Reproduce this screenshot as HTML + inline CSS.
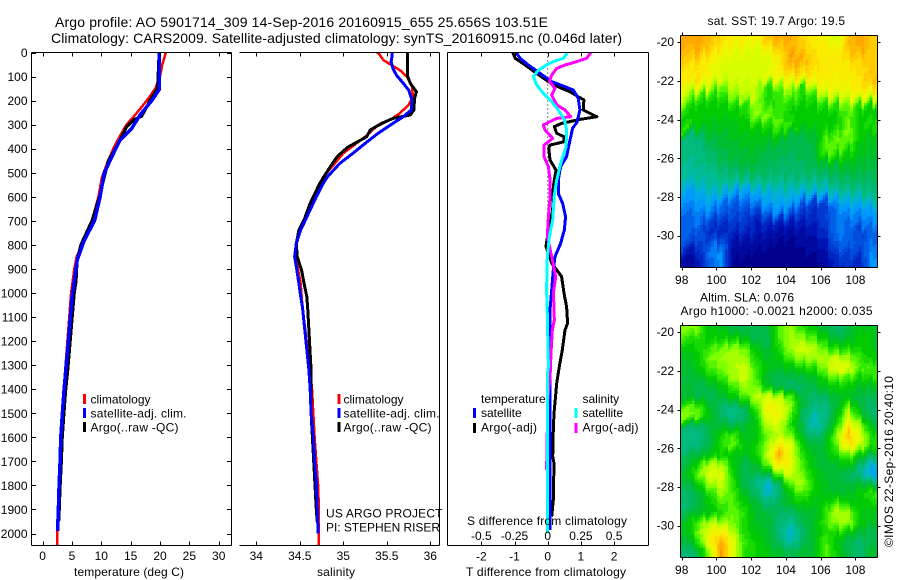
<!DOCTYPE html>
<html lang="en">
<head>
<meta charset="utf-8">
<title>Argo profile 5901714_309</title>
<style>
html,body{margin:0;padding:0;background:#fff;}
svg{display:block;}
text{font-family:"Liberation Sans",sans-serif;font-size:12px;fill:#000;}
.ttl{font-size:14px;}
</style>
</head>
<body>
<svg id="fig" xmlns="http://www.w3.org/2000/svg" width="900" height="580" viewBox="0 0 900 580">
<rect x="0" y="0" width="900" height="580" fill="#fff"/>
<text class="ttl" x="55" y="27" textLength="493" lengthAdjust="spacing">Argo profile: AO 5901714_309 14-Sep-2016 20160915_655 25.656S 103.51E</text>
<text class="ttl" x="51" y="43" textLength="571" lengthAdjust="spacing">Climatology: CARS2009. Satellite-adjusted climatology: synTS_20160915.nc (0.046d later)</text>
<g id="maps"></g>
<g id="series"></g>
<g id="axes" shape-rendering="crispEdges"></g>
<g id="labels"></g>

<text x="74" y="576" textLength="110" lengthAdjust="spacing">temperature (deg C)</text>
<text x="317" y="576" textLength="38" lengthAdjust="spacing">salinity</text>
<text x="467" y="525" textLength="160" lengthAdjust="spacing">S difference from climatology</text>
<text x="466" y="576" textLength="160" lengthAdjust="spacing">T difference from climatology</text>

<g>
<rect x="83" y="394" width="3" height="10" fill="#f00"/>
<rect x="83" y="408" width="3" height="10" fill="#00f"/>
<rect x="83" y="422" width="3" height="10" fill="#000"/>
<text x="90.5" y="403.5">climatology</text>
<text x="90.5" y="417.5" textLength="96" lengthAdjust="spacing">satellite-adj. clim.</text>
<text x="90.5" y="431.5" textLength="88" lengthAdjust="spacing">Argo(..raw -QC)</text>
</g>
<g>
<rect x="337.5" y="394" width="3" height="10" fill="#f00"/>
<rect x="337.5" y="408" width="3" height="10" fill="#00f"/>
<rect x="337.5" y="422" width="3" height="10" fill="#000"/>
<text x="343.5" y="403.5">climatology</text>
<text x="343.5" y="417.5" textLength="96" lengthAdjust="spacing">satellite-adj. clim.</text>
<text x="343.5" y="431.5" textLength="88" lengthAdjust="spacing">Argo(..raw -QC)</text>
</g>
<text x="326" y="517.5" textLength="116.5" lengthAdjust="spacing">US ARGO PROJECT</text>
<text x="326" y="531.5" textLength="114" lengthAdjust="spacing">PI: STEPHEN RISER</text>

<g>
<text x="481" y="403">temperature</text>
<text x="582.5" y="403">salinity</text>
<rect x="473" y="408" width="3" height="10" fill="#00f"/>
<rect x="473" y="423" width="3" height="10" fill="#000"/>
<rect x="574.5" y="408" width="3" height="10" fill="#0ff"/>
<rect x="574.5" y="423" width="3" height="10" fill="#f0f"/>
<text x="481" y="417">satellite</text>
<text x="481" y="431.5" textLength="56" lengthAdjust="spacing">Argo(-adj)</text>
<text x="582.5" y="417">satellite</text>
<text x="582.5" y="431.5" textLength="56" lengthAdjust="spacing">Argo(-adj)</text>
</g>

<text x="707.5" y="25" textLength="137.5" lengthAdjust="spacing">sat. SST: 19.7 Argo: 19.5</text>
<text x="700" y="301.5" textLength="94" lengthAdjust="spacing">Altim. SLA: 0.076</text>
<text x="680.5" y="315" textLength="192" lengthAdjust="spacing">Argo h1000: -0.0021 h2000: 0.035</text>
<text transform="translate(893,547) rotate(-90)" x="0" y="0" textLength="171" lengthAdjust="spacing">©IMOS 22-Sep-2016 20:40:10</text>
</svg>
<script>
// ---------- profile data (depth in m, temperature deg C, salinity PSU) ----------
const depthTicks = [0,100,200,300,400,500,600,700,800,900,1000,1100,1200,1300,1400,1500,1600,1700,1800,1900,2000];
const tempTicks = [0,5,10,15,20,25,30];
const salTicks = [34,34.5,35,35.5,36];
const salTickLabels = ['34','34.5','35','35.5','36'];
const diffTTicks = [-2,-1,0,1,2];
const diffSTicks = [-0.5,-0.25,0,0.25,0.5];
const diffSTickLabels = ['-0.5','-0.25','0','0.25','0.5'];

const tempClimDepth = [0,50,100,150,200,260,300,350,400,460,520,600,700,800,850,900,1000,1320,1400,1500,1600,1700,1800,1900,2053];
const tempClimVal = [21,20.4,20,19.2,17.75,15.75,14.3,13.1,12.05,11,10.1,9.5,8.4,6.7,5.8,5.4,4.85,3.85,3.6,3.3,3.05,2.9,2.75,2.6,2.45];
const tempSatDepth = [0,155,200,260,315,364,433,502,600,630,696,787,863,932,1021,1320,1400,1500,1600,1700,1800,1900,1990];
const tempSatVal = [19.85,19.85,18.6,16.6,15.2,13.2,11.8,10.5,9.8,9.5,8.9,7,5.9,5.5,5,3.95,3.67,3.38,3.1,2.98,2.81,2.7,2.53];
const tempArgoDepth = [0,130,150,200,265,280,310,400,450,520,600,700,800,860,950,1000,1320,1400,1500,1600,1700,1800,1900,1950];
const tempArgoVal = [19.85,19.6,19.5,18.3,16.9,15.5,14.3,12.4,11.2,10.5,9.7,8.4,6.5,5.9,5.7,5.4,4.3,3.95,3.65,3.35,3.2,3,2.85,2.75];

const salClimDepth = [0,10,31,45,73,100,142,184,218,253,280,308,350,378,419,475,516,600,669,738,794,849,904,960,1057,1320,1400,1500,1600,1700,1800,1900,2053];
const salClimVal = [35.39,35.42,35.46,35.52,35.65,35.73,35.79,35.8,35.75,35.65,35.54,35.38,35.25,35.15,35,34.87,34.77,34.66,34.6,34.5,34.46,34.46,34.48,34.51,34.53,34.62,34.64,34.655,34.67,34.69,34.71,34.72,34.72];
const salSatDepth = [0,17,38,66,94,128,156,197,239,267,295,336,378,419,461,516,544,600,669,738,794,849,890,960,1015,1057,1320,1403,1500,1597,1694,1791,1888,2000];
const salSatVal = [35.56,35.56,35.55,35.57,35.61,35.69,35.75,35.79,35.78,35.69,35.57,35.4,35.25,35.11,34.96,34.82,34.77,34.69,34.6,34.51,34.46,34.44,34.46,34.49,34.51,34.53,34.605,34.62,34.63,34.655,34.67,34.69,34.7,34.71];
const salArgoDepth = [0,100,128,163,190,239,260,274,295,322,350,378,394,433,475,544,627,696,738,794,849,904,960,1015,1057,1320,1500,1700,1900,1950];
const salArgoVal = [35.74,35.74,35.77,35.84,35.82,35.81,35.77,35.57,35.44,35.31,35.27,35.13,35.05,34.93,34.85,34.73,34.62,34.55,34.49,34.46,34.47,34.52,34.55,34.58,34.59,34.63,34.63,34.66,34.69,34.7];

const dTSatDepth = [0,24,52,87,121,142,156,190,239,288,315,378,433,475,530,586,627,683,738,794,849,904,987,1070,1400,1985];
const dTSatVal = [-0.95,-0.83,-0.58,-0.23,0.12,0.52,0.77,0.92,0.97,0.89,0.75,0.65,0.57,0.39,0.32,0.32,0.45,0.54,0.5,0.39,0.22,0.17,0.12,0.07,0.07,0.07];
const dTArgoDepth = [0,24,52,87,121,149,163,184,197,239,267,278,295,308,336,350,371,385,398,447,489,558,655,738,807,876,932,1001,1057,1126,1154,1237,1306,1376,1500,1570,1680,1708,1860,1930];
const dTArgoVal = [-1.05,-0.98,-0.68,-0.33,0.02,0.42,0.67,0.92,1.09,1.07,1.48,0.97,0.42,0.2,0.27,0.49,0.49,0.07,0.03,0.07,0.25,0.17,0.15,0.02,-0.05,0.12,0.42,0.49,0.57,0.6,0.52,0.44,0.35,0.27,0.19,0.17,0.15,0.19,0.17,0.12];
const dSSatDepth = [0,24,38,52,73,100,135,170,197,239,280,322,392,461,530,600,696,766,849,987,1070,1306,1340,1650,2000];
const dSSatVal = [0.148,0.118,0.043,-0.008,-0.07,-0.108,-0.083,-0.033,0.018,0.08,0.126,0.143,0.138,0.098,0.068,0.048,0.038,0.013,-0.003,-0.008,-0.004,0.005,-0.003,-0.001,-0.003];
const dSArgoDepth = [0,24,38,52,66,94,121,149,177,218,239,267,274,301,322,357,385,433,475,530,600,683,766,849,932,1001,1070,1112,1154,1251,1348,1459,1570,1736];
const dSArgoVal = [0.324,0.294,0.219,0.13,0.068,0.03,0.013,0.055,0.03,0.068,0.13,0.173,0.068,-0.033,-0.02,0.038,-0.028,-0.028,0.005,0.018,0.018,0.005,-0.003,0.03,0.06,0.043,0.048,0.05,0.035,0.025,0.018,-0.003,-0.003,-0.008];

// ---------- map data ----------
const mapLonTicks = [98,100,102,104,106,108];
const mapLatTicks = [20,22,24,26,28,30];
// sea-surface temperature, deg C; rows north to south, columns west to east
const sstRows = [
[24,24,23.7,23.3,23,23,22.7,23.7,24,24,23.3,23,22.7,22,23.7,24,23.5],
[23.7,24,23.5,23,22.5,22.5,22.3,23,23.5,23.7,23.5,23,23,22.7,23.7,24,23.5],
[23.5,23.5,23,22.5,22.3,22.3,22.3,22.3,23,24.2,24,23.3,23,23,23.3,23.5,23.5],
[23,23,22.7,22.3,22.3,22.3,22.2,22.3,23,23.7,23.5,23.2,23,23,23,23.2,23.5],
[23,23.3,22.7,22.3,22.2,22.2,22.3,22.5,22.7,23,23,23,23,22.8,23,23.2,23.7],
[22.3,22.5,22,21.3,22,22,22,20.8,21.5,22,20.8,22.3,22.7,22.7,22.8,23,23.3],
[21.7,21,20.8,20.8,21.5,21.8,22,20.6,21,21.3,20.7,20.8,22,22,22.3,22.7,22.5],
[20.8,20.6,20.5,20.5,20.7,20.7,21.6,20.8,21,20.7,20.5,20.6,20.8,20.8,21.5,20.7,20.6],
[20.5,20.4,20.4,20.4,20.4,20.6,21.7,21.5,21,20.6,20.5,20.5,20.5,20.6,21.2,20.6,20.5],
[21,20.4,20.3,20.3,20.3,20.5,20.7,20.7,21.3,20.9,20.4,20.4,20.4,20.6,21.4,20.5,20.9],
[19.2,19.4,20,20,20.2,20.3,20.3,20.3,20.6,19.8,19.8,20,20.9,21.1,21.5,20.4,20.3],
[19.2,19.2,19.6,19.9,20,20.2,20.2,20,19.9,19.7,19.7,19.9,21.3,21.4,21.2,20.4,20.2],
[19.2,19.3,19.5,19.8,20,20,20,19.7,19.7,19.6,19.7,19.8,21.2,20.9,20.5,20.3,20],
[19,19.1,19.3,19.6,19.7,19.9,19.9,19.7,19.6,19.6,19.6,19.8,20,20,20.2,20,19.9],
[18.9,19,19,19.3,19.4,19.6,19.6,19.5,19.4,19.5,19.5,19.5,19.6,19.7,19.8,19.8,19.7],
[18.5,18.8,18.9,19,19,18.7,19,19.2,19,19,19,19,18.9,19.4,19.5,19.5,19.4],
[18,18.3,18.6,18.6,18.1,18,18.2,18.4,18.5,18.6,18.4,18.5,18.5,18.8,18.9,19,19.3],
[17.8,18,18.3,17.7,17.4,17.5,17.8,18.2,18.3,18.2,17.5,17,17.2,18,18.4,18.3,18.7],
[17.5,17.8,17.8,17.4,17.3,17.2,17,17.6,18,17.4,17,16.8,17,17.7,17.9,17.9,18],
[17.5,17.7,17.1,16.9,17,17,16.6,16.8,16.7,16.6,16.6,16.7,17.1,17.7,17.6,17.7,17.9],
[17.6,17.3,16.8,16.7,16.8,16.8,16.6,16.5,16.3,16.3,16.3,16.5,16.9,17.7,17.6,17,17.5],
[17.2,17.1,17.2,17.4,16.4,16.3,16.3,16.2,16.1,16.1,16.2,16.3,16.6,17.6,17.5,17.3,17.6],
[16.4,16.7,17.7,18,16.2,16.2,16.1,16.1,16,16,16.1,16.2,16.4,17.2,17.3,17.2,17.8],
[16.2,16.5,17.5,17.9,16.1,16.1,16,16,16,16,16,16,16.2,16.8,16.9,16.7,18]
];
// altimetric sea-level anomaly, m
const slaRows = [
[0.1,0.1,0.02,0.02,-0.02,-0.02,-0.03,-0.02,0.08,0.12,0.06,0.02,-0.01,-0.05,-0.02,0.02,0.02],
[0.06,0.05,0.03,0.04,0.04,0.02,-0.03,-0.03,0.08,0.13,0.12,0.08,0.03,-0.02,0,0.03,0.02],
[0.02,0.04,0.07,0.1,0.12,0.1,0.02,-0.02,0.05,0.13,0.16,0.14,0.08,0.05,0.05,0.04,0.02],
[0,0.03,0.1,0.12,0.13,0.13,0.04,0,0.03,0.08,0.12,0.12,0.13,0.15,0.12,0.07,0.03],
[-0.01,0.02,0.08,0.1,0.13,0.15,0.07,0.02,0,0.02,0.05,0.06,0.12,0.18,0.17,0.08,0.08],
[-0.02,-0.01,0.03,0.07,0.12,0.15,0.08,-0.02,-0.03,-0.03,-0.02,0,0.06,0.1,0.08,0.04,0.06],
[-0.01,-0.03,-0.02,0.01,0.07,0.12,0.1,0.02,-0.03,-0.05,-0.04,-0.02,0.01,0.03,0.03,0,0],
[0,-0.02,-0.03,-0.01,0.02,0.08,0.14,0.17,0.14,0.08,-0.02,-0.05,-0.04,0,0,-0.02,-0.03],
[0.1,0.08,0,-0.05,-0.06,-0.03,0.08,0.2,0.19,0.12,-0.02,-0.06,-0.07,-0.01,0.1,-0.02,-0.05],
[0.1,0.1,0.01,-0.04,-0.08,-0.05,0.03,0.19,0.2,0.08,-0.03,-0.1,-0.07,0.02,0.16,0.04,-0.05],
[-0.05,-0.05,-0.02,0,-0.02,-0.01,0.02,0.14,0.15,0.05,-0.02,-0.12,-0.06,0.05,0.22,0.12,0],
[-0.07,-0.07,-0.03,0.04,0.08,0,0.02,0.1,0.14,0.1,0,-0.06,-0.02,0.12,0.28,0.17,0.05],
[-0.07,-0.06,-0.02,0.06,0.1,0.02,0.03,0.12,0.22,0.18,0.03,-0.02,0,0.1,0.24,0.15,0.05],
[-0.03,-0.02,0.02,0.04,0.02,0,0.04,0.14,0.3,0.17,0.06,0,0,0.05,0.1,0.03,-0.03],
[-0.02,0.05,0.14,0.13,0.03,-0.03,0,0.1,0.24,0.18,0.08,0.01,-0.02,0,0.03,-0.05,-0.12],
[0,0.1,0.17,0.17,0.05,-0.03,-0.03,-0.03,0.1,0.16,0.1,0.03,0,-0.02,-0.03,-0.08,-0.15],
[-0.03,0.03,0.12,0.15,0.06,-0.03,-0.06,-0.12,-0.04,0.1,0.13,0.04,0,0,-0.02,0,-0.03],
[-0.05,-0.02,0.05,0.12,0.08,0,-0.04,-0.12,-0.05,0.03,0.09,0.03,0.01,0,0,0.03,0.07],
[-0.06,-0.02,0.03,0.08,0.08,0.03,-0.01,-0.06,-0.03,0.01,0.03,0.01,0.03,0.08,0.03,0.02,0.04],
[-0.03,0,0.02,0.05,0.1,0.06,0,-0.02,-0.04,-0.05,-0.01,-0.01,0.06,0.14,0.12,0.02,0.01],
[0.02,0.08,0.14,0.12,0.1,0.05,0,0,-0.05,-0.08,-0.03,0,0.07,0.12,0.13,0.03,0],
[0,0.1,0.18,0.22,0.14,0.05,0.02,0,-0.06,-0.12,-0.05,0,0.05,0.05,0.03,-0.01,-0.03],
[-0.03,0.06,0.2,0.3,0.18,0.07,0.04,0,-0.04,-0.1,-0.04,0,0.08,0.02,-0.03,-0.05,-0.03],
[-0.06,-0.02,0.12,0.32,0.18,0.06,0.04,0.02,-0.01,-0.03,-0.01,0,0.09,0.03,-0.03,-0.05,0]
];
const colorLevels = [16,16.5,17,17.5,18,18.5,19,19.5,20,20.5,21,21.5,22,22.5,23,23.5,24,24.5];
const colorRGB = [[0,0,140],[0,20,180],[0,56,208],[0,96,232],[0,152,255],[0,176,216],[0,188,148],[0,184,104],[0,188,48],[0,204,0],[48,232,0],[128,255,0],[200,255,0],[232,250,0],[250,236,0],[255,204,0],[255,168,0],[240,136,0]];

// ---------- scales ----------
const NS = 'http://www.w3.org/2000/svg';
const gMaps = document.getElementById('maps');
const gSeries = document.getElementById('series');
const gAxes = document.getElementById('axes');
const gLabels = document.getElementById('labels');
const TOP = 52.5, BOT = 545.5;
const yDepth = d => 52.5 + 0.2405 * d;
const xTemp = t => 42.6 + 5.87 * t;
const xSal = s => 256.3 + 87 * (s - 34);
const xDT = t => 547.7 + 33.2 * t;
const xDS = s => 547.7 + 132.8 * s;

function mk(tag, attrs, parent){
  const el = document.createElementNS(NS, tag);
  for (const k in attrs) el.setAttribute(k, attrs[k]);
  parent.appendChild(el);
  return el;
}
function drawProfile(depths, vals, xf, color, w){
  const pts = depths.map((d, i) => xf(vals[i]).toFixed(1) + ',' + yDepth(d).toFixed(1)).join(' ');
  return mk('polyline', {points: pts, fill: 'none', stroke: color, 'stroke-width': w, 'stroke-linejoin': 'round', 'shape-rendering': 'crispEdges'}, gSeries);
}
function hLine(x1, x2, y){
  return mk('line', {x1: x1, x2: x2, y1: y, y2: y, stroke: '#000', 'stroke-width': 1}, gAxes);
}
function vLine(x, y1, y2){
  return mk('line', {x1: x, x2: x, y1: y1, y2: y2, stroke: '#000', 'stroke-width': 1}, gAxes);
}
function label(str, x, y, anchor){
  const t = mk('text', {x: x, y: y, 'text-anchor': anchor}, gLabels);
  t.textContent = str;
  return t;
}

// ---------- series ----------
let s;
s = drawProfile(tempClimDepth, tempClimVal, xTemp, '#f00', 2.5);


s = drawProfile(tempArgoDepth, tempArgoVal, xTemp, '#000', 3);


s = drawProfile(tempSatDepth, tempSatVal, xTemp, '#00f', 3.5);



s = drawProfile(salClimDepth, salClimVal, xSal, '#f00', 2.5);


s = drawProfile(salArgoDepth, salArgoVal, xSal, '#000', 3);


s = drawProfile(salSatDepth, salSatVal, xSal, '#00f', 3);



s = mk('line', {x1: xDT(0), x2: xDT(0), y1: TOP, y2: yDepth(1000), stroke: '#000', 'stroke-width': 1, 'stroke-dasharray': '1 3'}, gSeries);


s = drawProfile(dTArgoDepth, dTArgoVal, xDT, '#000', 3);


s = drawProfile(dTSatDepth, dTSatVal, xDT, '#00f', 3);


s = drawProfile(dSArgoDepth, dSArgoVal, xDS, '#f0f', 3);


s = drawProfile(dSSatDepth, dSSatVal, xDS, '#0ff', 3);



// ---------- axes ----------
const panels = [
  {l: 31.5, r: 231.5, leftLine: true,  name: 'temperature-panel'},
  {l: 239.5, r: 439.5, leftLine: false, name: 'salinity-panel'},
  {l: 447.5, r: 648.5, leftLine: true,  name: 'difference-panel'}
];
panels.forEach(p => {
  const top = hLine(p.l, p.r, TOP);
  
  
  const bot = hLine(p.l, p.r, BOT);
  
  
  const rt = vLine(p.r, TOP, BOT);
  
  
  if (p.leftLine) {
    const lf = vLine(p.l, TOP, BOT);
    
    
  }
});
depthTicks.forEach(d => {
  const y = Math.round(yDepth(d)) + 0.5;
  const a = hLine(31.5, 36, y);
  
  
  const b = hLine(227, 231.5, y);
  
  
  const t = label(String(d), 27.5, yDepth(d) + 4.5, 'end');
  
  
});
function xTicks(vals, xf, labels, labelY, name){
  vals.forEach((v, i) => {
    const x = Math.round(xf(v)) + 0.5;
    const a = vLine(x, TOP, TOP + 4);
    
    
    const b = vLine(x, BOT - 4, BOT);
    
    
    const t = label(labels[i], xf(v), labelY, 'middle');
    
    
  });
}
xTicks(tempTicks, xTemp, tempTicks.map(String), 560, 'temperature-tick-label');
xTicks(salTicks, xSal, salTickLabels, 560, 'salinity-tick-label');
xTicks(diffTTicks, xDT, diffTTicks.map(String), 560.5, 't-difference-tick-label');
diffSTicks.forEach((v, i) => {
  const t = label(diffSTickLabels[i], xDS(v) , 540, 'middle');
  
  
});

// ---------- maps ----------
const xLon = lon => 681.7 + 17.37 * (lon - 98);
const LON_MIN = 97.94, LON_MAX = 109.27, LAT_MIN = 19.64, LAT_MAX = 31.63;
function levelColor(v){
  const q = Math.round(v * 4) / 4;
  if (q <= colorLevels[0]) return 'rgb(' + colorRGB[0].join(',') + ')';
  for (let i = 1; i < colorLevels.length; i++) {
    if (q <= colorLevels[i]) {
      const f = (q - colorLevels[i-1]) / (colorLevels[i] - colorLevels[i-1]);
      const c = colorRGB[i].map((u, k) => Math.round(colorRGB[i-1][k] + (u - colorRGB[i-1][k]) * f));
      return 'rgb(' + c.join(',') + ')';
    }
  }
  return 'rgb(' + colorRGB[colorRGB.length-1].join(',') + ')';
}
function sample(rows, lon, lat){
  const nr = rows.length, nc = rows[0].length;
  const cf = Math.max(0, Math.min(nc - 1.001, (lon - LON_MIN) / (LON_MAX - LON_MIN) * nc - 0.5));
  const rf = Math.max(0, Math.min(nr - 1.001, (lat - LAT_MIN) / (LAT_MAX - LAT_MIN) * nr - 0.5));
  const c = Math.floor(cf), r = Math.floor(rf), a = cf - c, b = rf - r;
  return rows[r][c]*(1-a)*(1-b) + rows[r][c+1]*a*(1-b) + rows[r+1][c]*(1-a)*b + rows[r+1][c+1]*a*b;
}
const CELL_W = 0.16, CELL_H = 0.14, JAG_PERIOD = 0.64;
function drawMap(yLat, rows, toLevel, group, jag){
  for (let lat = LAT_MIN; lat < LAT_MAX - 1e-6; lat += CELL_H) {
    for (let lon = LON_MIN; lon < LON_MAX - 1e-6; lon += CELL_W) {
      const x0 = xLon(lon), x1 = xLon(Math.min(lon + CELL_W, LON_MAX));
      const y0 = yLat(lat), y1 = yLat(Math.min(lat + CELL_H, LAT_MAX));
      const saw = ((lon - LON_MIN) % JAG_PERIOD) / JAG_PERIOD - 0.5;
      const v = toLevel(sample(rows, lon + CELL_W / 2, lat + CELL_H / 2 + saw * jag));
      const cell = mk('rect', {x: x0.toFixed(1), y: y0.toFixed(1), width: (x1 - x0 + 0.4).toFixed(1), height: (y1 - y0 + 0.4).toFixed(1), fill: levelColor(v), 'shape-rendering': 'crispEdges'}, group);
      
      
    }
  }
}
function drawMapAxes(yLat, top, bottom, labelY){
  const left = 680.5, right = 877.5;
  const edges = [hLine(left, right, top), hLine(left, right, bottom), vLine(left, top, bottom), vLine(right, top, bottom)];
  edges.forEach(e => {
    
    
  });
  mapLonTicks.forEach(lon => {
    const x = Math.round(xLon(lon)) + 0.5;
    const a = vLine(x, top - 3, top);
    
    
    const b = vLine(x, bottom, bottom + 3);
    
    
    const t = label(String(lon), xLon(lon), labelY, 'middle');
    
    
  });
  mapLatTicks.forEach(lat => {
    const y = Math.round(yLat(lat)) + 0.5;
    const a = hLine(left - 3, left, y);
    
    
    const b = hLine(right, right + 3, y);
    
    
    const t = label(String(-lat), 674, yLat(lat) + 4, 'end');
    
    
  });
}
const ySst = lat => 42.2 + 19.35 * (lat - 20);
const ySla = lat => 332.2 + 19.35 * (lat - 20);
const gSst = mk('g', {}, gMaps);


const gSla = mk('g', {}, gMaps);


drawMap(ySst, sstRows, v => v, gSst, 0.7);
drawMap(ySla, slaRows, v => 20.1 + v * 13, gSla, 0.35);
drawMapAxes(ySst, 35.5, 267.5, 284);
drawMapAxes(ySla, 325.5, 557.5, 574);
</script>
</body>
</html>
